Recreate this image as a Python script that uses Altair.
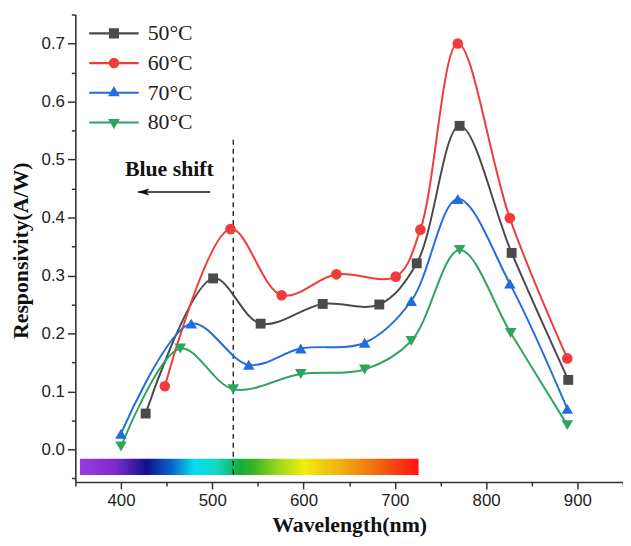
import altair as alt
import pandas as pd

# ---------------- data ----------------
SERIES = ["50°C", "60°C", "70°C", "80°C"]
COLORS = ["#4a4a4a", "#f03b3b", "#1f6ddf", "#2fa45f"]
MARKERS = ["square", "circle", "triangle-up", "triangle-down"]
MARKER_SIZES = [100, 115, 135, 135]

WL_50 = [427, 501, 553, 621, 683, 724, 771, 828, 890]
R_50 = [0.062, 0.295, 0.217, 0.251, 0.250, 0.321, 0.558, 0.339, 0.120]
WL_60 = [448, 520, 576, 636, 701, 728, 769, 826, 889]
R_60 = [0.109, 0.380, 0.266, 0.302, 0.298, 0.379, 0.700, 0.399, 0.157]
WL_70 = [400, 477, 540, 597, 667, 718, 769, 826, 889]
R_70 = [0.027, 0.217, 0.146, 0.174, 0.184, 0.256, 0.432, 0.286, 0.070]
WL_80 = [400, 465, 523, 597, 667, 718, 771, 827, 889]
R_80 = [0.005, 0.174, 0.104, 0.130, 0.138, 0.187, 0.344, 0.201, 0.042]

X_MAJOR = [400, 500, 600, 700, 800, 900]
X_MINOR = [350, 450, 550, 650, 750, 850, 950]
Y_MAJOR = [0.0, 0.1, 0.2, 0.3, 0.4, 0.5, 0.6, 0.7]
Y_MINOR = [-0.05, 0.05, 0.15, 0.25, 0.35, 0.45, 0.55, 0.65, 0.75]

# visible spectrum strip (wavelength span, responsivity span)
SPECTRUM_WL = [355, 726]
SPECTRUM_R = [-0.016, -0.044]
SPECTRUM_STOPS_WL = [355, 395, 428, 455, 480, 505, 530, 545, 572, 600, 640, 680, 726]
SPECTRUM_COLORS = ["#9b3be0", "#7c2ac9", "#12128a", "#0a62c8", "#08dcf0", "#12d8c4",
                   "#16ac3c", "#36b424", "#9ad81a", "#f0ec10", "#f0b212", "#f06a10", "#ff1212"]

# annotations
DASH_WL = [523]
DASH_R = [0.534, -0.045]
ARROW_WL = [419, 497.7]
ARROW_R = [0.444]
ARROW_HEAD_WL = [424.5]
TEXT_WL = [453]
TEXT_R = [0.484]
TEXT = ["Blue shift"]

# ---------------- tables ----------------
rows = []
for s, wls, rs in zip(SERIES, [WL_50, WL_60, WL_70, WL_80], [R_50, R_60, R_70, R_80]):
    for w, r in zip(wls, rs):
        rows.append({"series": s, "wl": w, "r": r})
df = pd.DataFrame(rows)

spec_df = pd.DataFrame({"wl": [SPECTRUM_WL[0]], "wl2": [SPECTRUM_WL[1]],
                        "r": [SPECTRUM_R[0]], "r2": [SPECTRUM_R[1]]})
dash_df = pd.DataFrame({"wl": DASH_WL, "r": [DASH_R[0]], "r2": [DASH_R[1]]})
arrow_df = pd.DataFrame({"wl": [ARROW_WL[0]], "wl2": [ARROW_WL[1]], "r": ARROW_R})
head_df = pd.DataFrame({"wl": ARROW_HEAD_WL, "r": ARROW_R})
text_df = pd.DataFrame({"wl": TEXT_WL, "r": TEXT_R, "t": TEXT})

# ---------------- scales / axes ----------------
xscale = alt.Scale(domain=[350, 950], nice=False, zero=False)
yscale = alt.Scale(domain=[-0.056, 0.75], nice=False, zero=False)

AX = dict(grid=False, domainColor="#333333", domainWidth=1.6, tickColor="#333333",
          tickWidth=1.5)

x_axis = alt.Axis(values=X_MAJOR, format="d", title="Wavelength(nm)", tickSize=7,
                  labelFont="Liberation Sans", labelFontSize=17, labelColor="#222222",
                  labelPadding=4, labelFlush=False,
                  titleFont="Liberation Serif", titleFontWeight="bold", titleFontSize=22,
                  titleColor="#111111", titleY=50, titleBaseline="alphabetic", **AX)
y_axis = alt.Axis(values=Y_MAJOR, format=".1f", title="Responsivity(A/W)", tickSize=8,
                  labelFont="Liberation Sans", labelFontSize=17, labelColor="#222222",
                  labelPadding=3, labelFlush=False,
                  titleFont="Liberation Serif", titleFontWeight="bold", titleFontSize=22,
                  titleColor="#111111", titleX=-48, titleY=238, titleBaseline="alphabetic",
                  titleAngle=270, **AX)
x_minor = alt.Axis(values=X_MINOR, labels=False, domain=False, tickSize=4, title=None,
                   orient="bottom", grid=False, tickColor="#333333", tickWidth=1.5)
y_minor = alt.Axis(values=Y_MINOR, labels=False, domain=False, tickSize=4, title=None,
                   orient="left", grid=False, tickColor="#333333", tickWidth=1.5)


# legend symbols: a line segment with a (stroke-filled) marker in its middle
def _fmt(v):
    return f"{v:.3f}".rstrip("0").rstrip(".")


def _poly(pts, cx, k):
    return "M" + "L".join(f"{_fmt(cx + x * k)},{_fmt(y * k)}" for x, y in pts) + "Z"


def _legend_path(kind, cx=-4.0, scales=(0.8, 0.45, 0.12)):
    p = "M-9,0H1"
    for k in scales:
        if kind == "square":
            p += _poly([(-1, -1), (1, -1), (1, 1), (-1, 1)], cx, k)
        elif kind == "circle":
            r = k * 1.05
            p += (f"M{_fmt(cx - r)},0A{_fmt(r)},{_fmt(r)},0,1,1,{_fmt(cx + r)},0"
                  f"A{_fmt(r)},{_fmt(r)},0,1,1,{_fmt(cx - r)},0Z")
        elif kind == "triangle-up":
            p += _poly([(0, -1.15), (1.0, 0.6), (-1.0, 0.6)], cx, k)
        else:
            p += _poly([(0, 1.15), (1.0, -0.6), (-1.0, -0.6)], cx, k)
    return p


LEG_PATHS = [_legend_path(m) for m in MARKERS]

# ---------------- layers ----------------
spectrum = alt.Chart(spec_df).mark_rect(
    color=alt.LinearGradient(
        gradient="linear",
        stops=[alt.GradientStop(offset=(w - SPECTRUM_WL[0]) / (SPECTRUM_WL[1] - SPECTRUM_WL[0]), color=c)
               for w, c in zip(SPECTRUM_STOPS_WL, SPECTRUM_COLORS)],
        x1=0, x2=1, y1=0, y2=0)
).encode(
    x=alt.X("wl:Q", scale=xscale, axis=None), x2="wl2:Q",
    y=alt.Y("r:Q", scale=yscale, axis=None), y2="r2:Q")

dash = alt.Chart(dash_df).mark_rule(color="#111111", strokeWidth=1.3, strokeDash=[5, 4]).encode(
    x=alt.X("wl:Q", scale=xscale, axis=None),
    y=alt.Y("r:Q", scale=yscale, axis=None), y2="r2:Q")

lines = alt.Chart(df).mark_line(interpolate="catmull-rom", strokeWidth=2).encode(
    x=alt.X("wl:Q", scale=xscale, axis=x_axis),
    y=alt.Y("r:Q", scale=yscale, axis=y_axis),
    color=alt.Color("series:N", scale=alt.Scale(domain=SERIES, range=COLORS), legend=None),
    order="wl:Q")

leg = alt.Legend(title=None, orient="none", legendX=48, legendY=8,
                 labelFont="Liberation Serif", labelFontSize=22, labelColor="#222222",
                 symbolSize=100, symbolStrokeWidth=2.2, symbolOpacity=1, rowPadding=8,
                 labelOffset=3, padding=0)
legend_layer = alt.Chart(df).mark_point(filled=False, opacity=0).encode(
    x=alt.X("wl:Q", scale=xscale, axis=None),
    y=alt.Y("r:Q", scale=yscale, axis=None),
    color=alt.Color("series:N", scale=alt.Scale(domain=SERIES, range=COLORS), legend=leg),
    shape=alt.Shape("series:N", scale=alt.Scale(domain=SERIES, range=LEG_PATHS), legend=leg))

point_layers = []
for s, c, shp, sz in zip(SERIES, COLORS, MARKERS, MARKER_SIZES):
    point_layers.append(
        alt.Chart(df).transform_filter(alt.datum.series == s).mark_point(
            filled=True, opacity=1, shape=shp, color=c, size=sz).encode(
            x=alt.X("wl:Q", scale=xscale, axis=None),
            y=alt.Y("r:Q", scale=yscale, axis=None)))

minor = alt.Chart(df).mark_point(opacity=0).encode(
    x=alt.X("wl:Q", scale=xscale, axis=x_minor),
    y=alt.Y("r:Q", scale=yscale, axis=y_minor))

arrow = alt.Chart(arrow_df).mark_rule(color="#111111", strokeWidth=1.6).encode(
    x=alt.X("wl:Q", scale=xscale, axis=None), x2="wl2:Q",
    y=alt.Y("r:Q", scale=yscale, axis=None))
head = alt.Chart(head_df).mark_point(shape="M-1,0L1,-0.6L0.55,0L1,0.6Z", filled=True,
                                     color="#111111", size=144, opacity=1).encode(
    x=alt.X("wl:Q", scale=xscale, axis=None),
    y=alt.Y("r:Q", scale=yscale, axis=None))
label = alt.Chart(text_df).mark_text(font="Liberation Serif", fontWeight="bold", fontSize=22,
                                     color="#111111", baseline="middle", align="center").encode(
    x=alt.X("wl:Q", scale=xscale, axis=None),
    y=alt.Y("r:Q", scale=yscale, axis=None),
    text="t:N")

chart = alt.layer(spectrum, dash, lines, legend_layer, *point_layers, minor, arrow, head,
                  label).resolve_axis(
    x="independent", y="independent").resolve_scale(
    color="independent", shape="independent").properties(
    width=553, height=472,
    autosize=alt.AutoSizeParams(type="none"),
    padding={"left": 68, "top": 4, "right": 0, "bottom": 54},
    background="white",
).configure_view(stroke=None)

chart.save("out.html", embed_options={"renderer": "svg", "actions": False})
